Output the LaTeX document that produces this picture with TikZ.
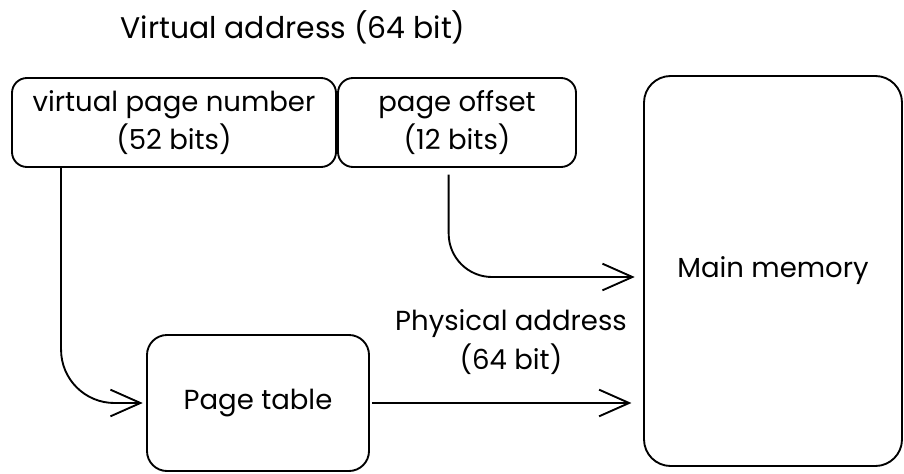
\documentclass[tikz,border=0pt]{standalone}
\usepackage{fontspec}
\setmainfont{Poppins}
\usetikzlibrary{positioning,arrows.meta}

\begin{document}
\begin{tikzpicture}[x=0.03cm, y=-0.03cm,
  >={Straight Barb[length=0.9cm,width=0.8cm]},
  line width=1.6pt,
  box/.style={draw, rounded corners=0.45cm, align=center, inner sep=0pt},
  lbl/.style={align=center},
  font=\fontsize{23.5}{33}\selectfont]
\useasboundingbox (0,0) rectangle (904,473);

% title
\node[lbl, font=\fontsize{25.5}{33}\selectfont] (title) at (293,27) {Virtual address (64 bit)};

% address fields
\node[box, minimum width=9.72cm, minimum height=2.67cm] (vpn) at (174,122.5) {virtual page number\\(52 bits)};
\node[box, minimum width=7.14cm, minimum height=2.67cm] (offset) at (457,122.5) {page offset\\(12 bits)};

% table and memory
\node[box, minimum width=6.66cm, minimum height=4.08cm, rounded corners=0.6cm] (ptable) at (258,403) {Page table};
\node[box, minimum width=7.74cm, minimum height=11.7cm, rounded corners=0.8cm] (mem) at (773,271) {Main memory};
\node[lbl] (phys) at (511,342) {Physical address\\(64 bit)};

% arrows
\draw[->, rounded corners=1.6cm] ([xshift=1.5cm]vpn.south west) |- ([xshift=-0.1cm]ptable.west);
\draw[->, rounded corners=1.3cm] ([xshift=-0.25cm,yshift=-0.2cm]offset.south) |- ([xshift=-0.25cm,yshift=-0.18cm]mem.west);
\draw[->] ([xshift=0.06cm]ptable.east) -- ([xshift=-0.35cm]ptable.east -| mem.west);
\end{tikzpicture}
\end{document}
